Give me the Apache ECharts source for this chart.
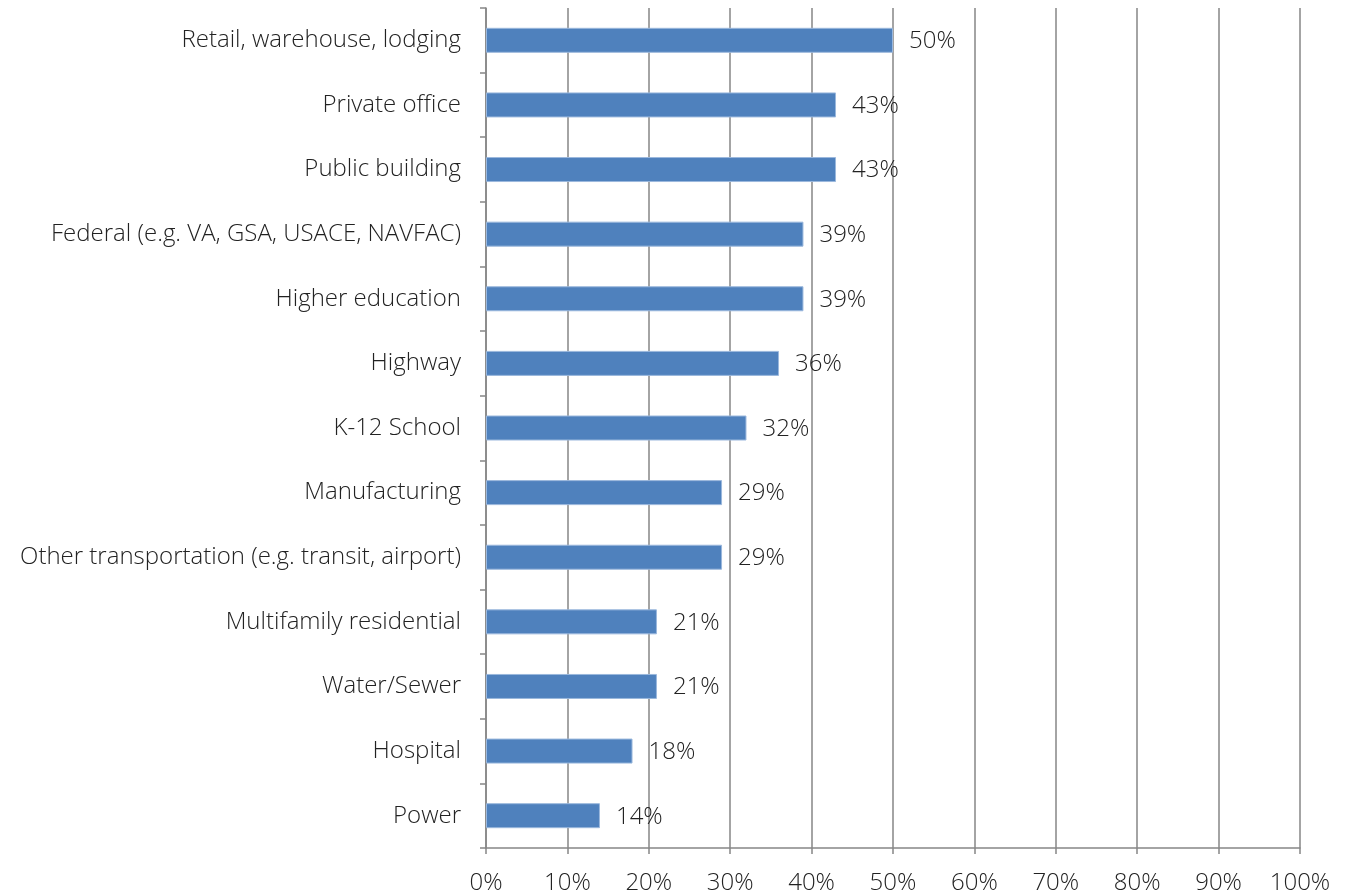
<!DOCTYPE html>
<html><head><meta charset="utf-8">
<script src="https://cdn.jsdelivr.net/npm/echarts@6/dist/echarts.min.js"></script>
<style>html,body{margin:0;padding:0;background:#fff}#c{width:1348px;height:896px}</style>
</head><body><div id="c"></div>
<script>
var categories = ["Retail, warehouse, lodging","Private office","Public building","Federal (e.g. VA, GSA, USACE, NAVFAC)","Higher education","Highway","K-12 School","Manufacturing","Other transportation (e.g. transit, airport)","Multifamily residential","Water/Sewer","Hospital","Power"];
var values = [50,43,43,39,39,36,32,29,29,21,21,18,14];
var xTicks = [0,10,20,30,40,50,60,70,80,90,100];
var FONT = "Open Sans";
var FW = 300;
var chart = echarts.init(document.getElementById('c'), null, {renderer:'canvas'});
chart.setOption({
  animation:false,
  grid:{left:486,right:48,top:8,bottom:48,containLabel:false},
  xAxis:{type:'value',min:0,max:100,interval:10,
    axisLine:{show:true,lineStyle:{color:'#868686',width:1.5}},
    axisTick:{show:true,length:6,lineStyle:{color:'#868686',width:1.5}},
    splitLine:{show:true,lineStyle:{color:'#868686',width:1.5}},
    axisLabel:{formatter:'{value}%',color:'#222',fontFamily:FONT,fontWeight:FW,fontSize:24,margin:23}},
  yAxis:{type:'category',data:categories,inverse:true,
    axisLine:{show:true,lineStyle:{color:'#868686',width:1.5}},
    axisTick:{show:true,length:6,lineStyle:{color:'#868686',width:1.5}},
    axisLabel:{color:'#222',fontFamily:FONT,fontWeight:FW,fontSize:24,margin:25}},
  series:[{type:'bar',data:values,barWidth:25,
    itemStyle:{color:'#4F81BD',borderColor:'#9BB8DD',borderWidth:1},
    label:{show:true,position:'right',distance:16,formatter:'{c}%',color:'#222',fontFamily:FONT,fontWeight:FW,fontSize:24,offset:[0,1]}}]
});
</script></body></html>
